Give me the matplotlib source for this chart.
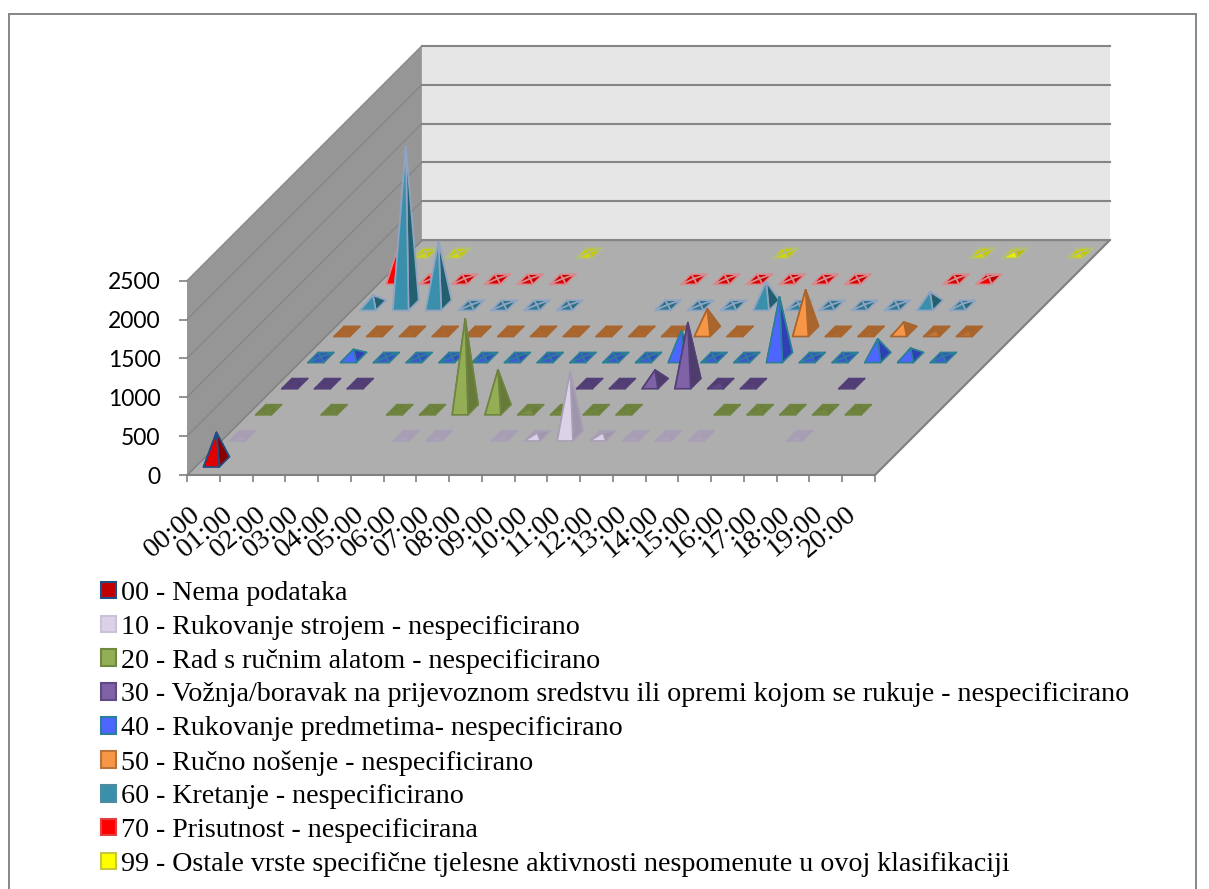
import numpy as np
import matplotlib
matplotlib.use("Agg")
import matplotlib.pyplot as plt
from matplotlib.patches import Patch, Polygon, Rectangle

W, H = 1209, 889

hours = ["%02d:00" % h for h in range(21)]
yticks = [0, 500, 1000, 1500, 2000, 2500]

# one list per activity code, one value per hour, 0 means no mark in that cell
s00 = [380, 0, 0, 0, 0, 0, 0, 0, 0, 0, 0, 0, 0, 0, 0, 0, 0, 0, 0, 0, 0]
s10 = [3, 0, 0, 0, 0, 3, 3, 0, 3, 40, 830, 40, 3, 3, 3, 0, 0, 3, 0, 0, 0]
s20 = [3, 0, 3, 0, 3, 3, 1170, 515, 15, 8, 3, 3, 0, 0, 3, 3, 3, 8, 3, 0, 0]
s30 = [3, 3, 3, 0, 0, 0, 0, 0, 0, 3, 3, 175, 785, 15, 3, 0, 0, 3, 0, 0, 0]
s40 = [8, 105, 8, 8, 15, 15, 15, 8, 8, 8, 15, 340, 15, 8, 780, 15, 8, 240, 120, 15, 0]
s50 = [3, 3, 3, 3, 3, 3, 3, 3, 3, 3, 3, 290, 3, 0, 535, 3, 3, 120, 15, 10, 0]
s60 = [130, 2040, 820, 8, 8, 8, 8, 0, 0, 8, 8, 20, 305, 20, 8, 8, 8, 175, 20, 0, 0]
s70 = [450, 10, 8, 8, 8, 8, 0, 0, 0, 8, 8, 8, 8, 8, 8, 0, 0, 8, 30, 0, 0]
s99 = [8, 8, 0, 0, 0, 8, 0, 0, 0, 0, 0, 8, 0, 0, 0, 0, 0, 8, 25, 0, 8]
series = [s00, s10, s20, s30, s40, s50, s60, s70, s99]

labels = [
    "00 - Nema podataka",
    "10 - Rukovanje strojem - nespecificirano",
    "20 - Rad s ručnim alatom - nespecificirano",
    "30 - Vožnja/boravak na prijevoznom sredstvu ili opremi kojom se rukuje - nespecificirano",
    "40 - Rukovanje predmetima- nespecificirano",
    "50 - Ručno nošenje - nespecificirano",
    "60 - Kretanje - nespecificirano",
    "70 - Prisutnost - nespecificirana",
    "99 - Ostale vrste specifične tjelesne aktivnosti nespomenute u ovoj klasifikaciji",
]
# bright face, right face, flat face, edge
bright = ["#E00000", "#DCD2E8", "#94AE55", "#7F62A6", "#4C66FF", "#F79646", "#3A90AA", "#FF0000", "#FFFF00"]
shade = ["#8B0000", "#9F96AC", "#667A3A", "#4E3C6A", "#2F40B4", "#A8652E", "#23606F", "#B00000", "#B4B400"]
flat = ["#B00000", "#A89FB5", "#6B7F3A", "#503C72", "#3A50C4", "#A8652E", "#2F7288", "#D00000", "#CCCC00"]
edges = ["#1F4E86", "#A89FB5", "#6F8440", "#544078", "#2C7F96", "#A8652E", "#8EA4C2", "#D68A8E", "#B2BE80"]
legend_edges = ["#1F4E86", "#CCC1DA", "#71893F", "#5F4A86", "#2C7F96", "#B8743A", "#4F8CA0", "#E04040", "#C8C840"]

# floor cell sizes in pixels and the oblique depth shift of one series
cell_w = 688.0 / 21
y_scale = 194.3 / 2500
depth = 26.1
half_w = 0.24
half_d = 0.195


def project(h, s, v):
    return h + s * depth / cell_w, v + s * depth / y_scale


def mix(c1, c2, t):
    a = np.array(matplotlib.colors.to_rgb(c1))
    b = np.array(matplotlib.colors.to_rgb(c2))
    return tuple(a + (b - a) * t)


fig = plt.figure(figsize=(W / 100, H / 100), dpi=100)
ax = fig.add_axes([187 / W, 1 - 475 / H, 688 / W, 194.3 / H])
ax.set_xlim(0, 21)
ax.set_ylim(0, 2500)
ax.patch.set_visible(False)
for sp in ax.spines.values():
    sp.set_visible(False)

n = len(series)


def poly(points, **kw):
    kw.setdefault("clip_on", False)
    ax.add_patch(Polygon([project(*p) for p in points], closed=True, **kw))


top = yticks[-1]
poly([(0, 0, 0), (21, 0, 0), (21, n, 0), (0, n, 0)], fc="#AEAEAE", ec="#808080", lw=1.5, zorder=1)
poly([(0, 0, 0), (0, n, 0), (0, n, top), (0, 0, top)], fc="#969696", ec="none", zorder=1)
poly([(0, n, 0), (21, n, 0), (21, n, top), (0, n, top)], fc="#E6E6E6", ec="none", zorder=1)
for t in yticks:
    xs, ys = zip(project(0, 0, t), project(0, n, t), project(21, n, t))
    ax.plot(xs[:2], ys[:2], color="#858585", lw=0.9, clip_on=False, zorder=2)
    ax.plot(xs[1:], ys[1:], color="#858585", lw=1.5, clip_on=False, zorder=2)

z = 3
for s in range(n - 1, -1, -1):
    vals = series[s]
    for h, v in enumerate(vals):
        if v <= 0:
            continue
        cx, cy = h + 0.5, s + 0.5
        fl = (cx - half_w, cy - half_d, 0)
        fr = (cx + half_w, cy - half_d, 0)
        br = (cx + half_w, cy + half_d, 0)
        bl = (cx - half_w, cy + half_d, 0)
        apex = (cx, cy, v)
        lit = min(1.0, v / 40.0)
        front = mix(flat[s], bright[s], lit)
        right = mix(flat[s], shade[s], lit)
        for face, col in [((bl, br), flat[s]), ((fl, bl), flat[s]), ((br, fr), right), ((fr, fl), front)]:
            poly([face[0], face[1], apex], fc=col, ec=edges[s], lw=1.2, joinstyle="round", zorder=z)
            z += 1

# tick marks sit on the cell edges, labels end a little left of the cell centres
ax.set_xticks(np.arange(22))
ax.set_xticklabels([])
ax.set_xticks(np.arange(21) + 0.08, minor=True)
ax.set_xticklabels(hours, minor=True, rotation=40, ha="right", va="top", rotation_mode="anchor",
                   family="Liberation Serif", fontsize=20.5)
ax.tick_params(axis="x", which="minor", length=0, pad=19)
ax.tick_params(axis="x", which="major", length=5, width=1.2, color="#808080")
ax.set_yticks(yticks)
ax.tick_params(axis="y", length=6, width=1.2, color="#808080", pad=13)
for lab in ax.get_yticklabels():
    lab.set_family("Lato")
    lab.set_fontsize(16.5)

handles = [Patch(fc=bright[i] if i != 0 else "#C00000", ec=legend_edges[i], lw=1.5) for i in range(n)]
fig.legend(handles, labels, loc="upper left", bbox_to_anchor=(101 / W, 1 - 581 / H), frameon=False,
           prop={"family": "Liberation Serif", "size": 20.2}, handlelength=0.53, handleheight=0.53,
           handletextpad=0.2, labelspacing=0.314, borderpad=0, borderaxespad=0)

fig.patches.append(Rectangle((9 / W, -0.1), 1187 / W, 1.1 - 13.5 / H, transform=fig.transFigure,
                             fc="none", ec="#868686", lw=1.4, zorder=-1))

fig.savefig("out.png", dpi=100)
